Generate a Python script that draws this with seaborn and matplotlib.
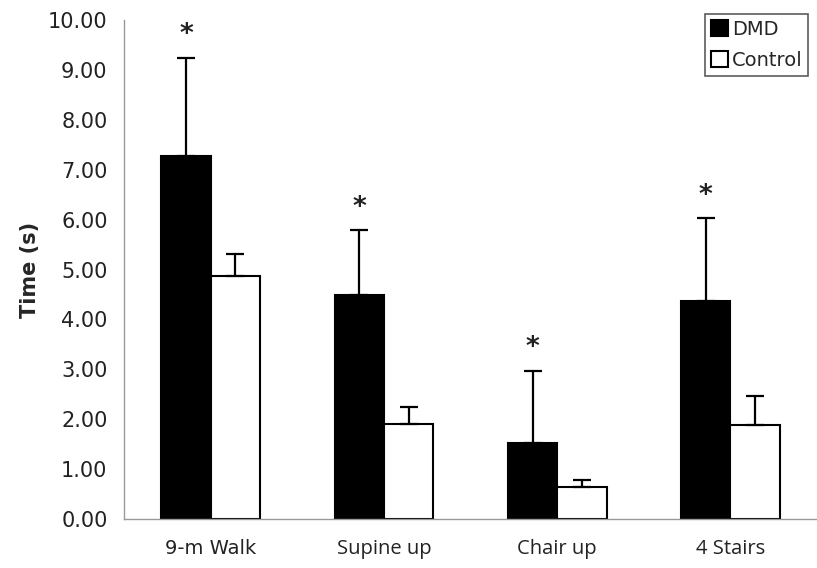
import matplotlib
matplotlib.use("Agg")
import matplotlib.pyplot as plt
import seaborn as sns
import pandas as pd
import numpy as np

categories = ["9-m Walk", "Supine up", "Chair up", "4 Stairs"]
groups = ["DMD", "Control"]
dmd_mean = [7.28, 4.49, 1.53, 4.37]
dmd_sd = [1.96, 1.30, 1.44, 1.66]
ctrl_mean = [4.87, 1.90, 0.64, 1.88]
ctrl_sd = [0.44, 0.35, 0.14, 0.59]
significant = [True, True, True, True]
yticks = [0, 1, 2, 3, 4, 5, 6, 7, 8, 9, 10]

df = pd.DataFrame({
    "Task": categories * 2,
    "Group": [groups[0]] * 4 + [groups[1]] * 4,
    "Time": dmd_mean + ctrl_mean,
})

sns.set_style("white")
plt.rcParams['font.family'] = ['DejaVu Sans']

fig = plt.figure(figsize=(8.17, 5.68), dpi=100)
ax = fig.add_axes([0.152, 0.086, 0.848, 0.879])

sns.barplot(data=df, x="Task", y="Time", hue="Group", order=categories,
            hue_order=groups, palette=["black", "white"], edgecolor="black",
            linewidth=1.5, width=0.57, errorbar=None, ax=ax, saturation=1)

means = [dmd_mean, ctrl_mean]
sds = [dmd_sd, ctrl_sd]
bar_containers = list(ax.containers)
for ci, cont in enumerate(bar_containers):
    for bi, bar in enumerate(cont.patches):
        xc = bar.get_x() + bar.get_width() / 2
        m = means[ci][bi]
        s = sds[ci][bi]
        ax.errorbar(xc, m, yerr=[[0], [s]], fmt="none", ecolor="black",
                    elinewidth=1.6, capsize=6.5, capthick=1.6, zorder=3)
        if ci == 0 and significant[bi]:
            ax.text(xc, m + s + 0.45, "*", ha="center", va="center",
                    fontsize=19, fontweight="bold", color="#222222")

ax.set_ylim(0, 10)
ax.set_xlim(-0.5, 3.44)
ax.set_yticks(yticks)
ax.set_yticklabels([f"{v:.2f}" for v in yticks], fontsize=15, color="#222222")
ax.set_xticks(range(len(categories)))
ax.set_xticklabels(categories, fontsize=14, color="#222222")
for i, lab in enumerate(ax.get_xticklabels()):
    if i > 0:
        lab.set_family(["Open Sans", "DejaVu Sans"])
        lab.set_fontsize(14.5)
ax.set_xticks([-0.5, 0.5, 1.5, 2.5, 3.5], minor=True)
ax.tick_params(axis="x", which="major", length=0, pad=14)
ax.tick_params(axis="x", which="minor", length=5, color="#999999", width=1, direction="out")
ax.tick_params(axis="y", which="major", length=5, color="#999999", width=1, direction="out", pad=7)
ax.set_xlabel("")
ax.set_ylabel("Time (s)", fontsize=15, fontweight="bold", labelpad=6)

for side in ["top", "right"]:
    ax.spines[side].set_visible(False)
for side in ["left", "bottom"]:
    ax.spines[side].set_color("#999999")
    ax.spines[side].set_linewidth(1)

leg = ax.legend(loc="upper right", bbox_to_anchor=(0.993, 1.02), frameon=True,
                fontsize=14, handlelength=0.85, handleheight=0.85, handletextpad=0.2,
                borderpad=0.3, labelspacing=0.62, fancybox=False, borderaxespad=0.2)
leg.get_frame().set_edgecolor("#333333")
leg.get_frame().set_linewidth(1.2)

fig.savefig("out.png", dpi=100)
